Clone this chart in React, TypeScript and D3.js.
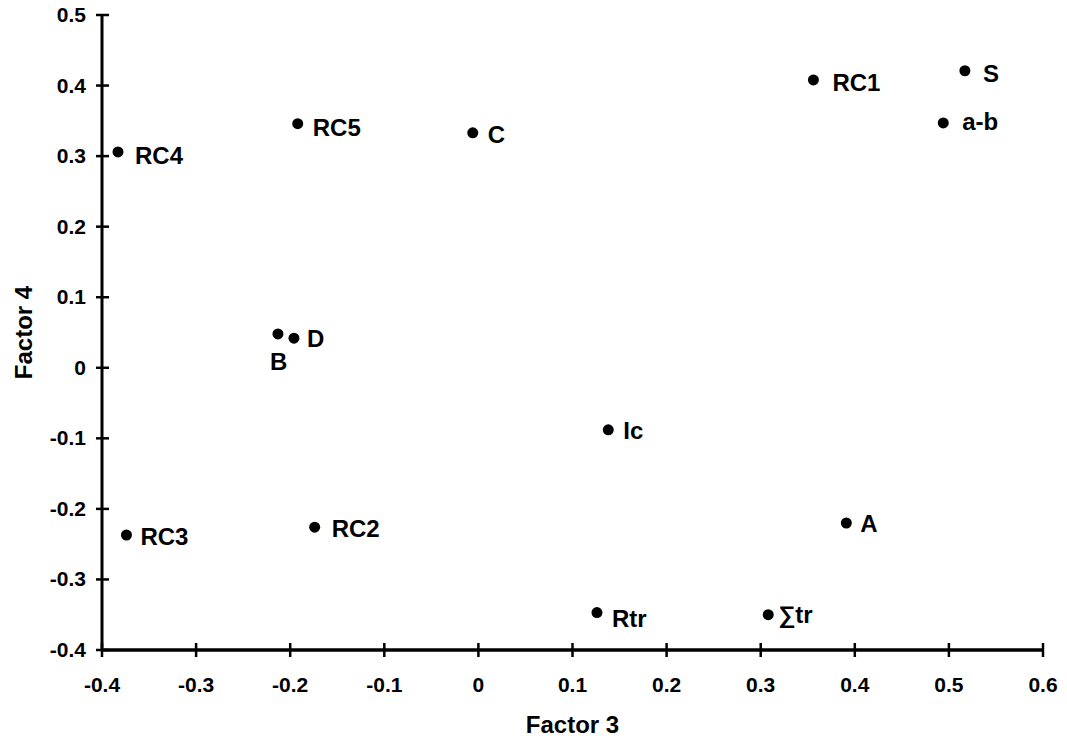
import React from "react";
import * as d3 from "d3";

const labels = ["RC4", "RC5", "C", "RC1", "S", "a-b", "B", "D", "Ic", "RC3", "RC2", "A", "Rtr", "\u2211tr"];
const factor3 = [-0.383, -0.192, -0.006, 0.356, 0.517, 0.494, -0.213, -0.196, 0.138, -0.374, -0.174, 0.391, 0.126, 0.308];
const factor4 = [0.306, 0.346, 0.333, 0.408, 0.421, 0.347, 0.048, 0.042, -0.088, -0.237, -0.226, -0.22, -0.347, -0.35];

const xTicks = [-0.4, -0.3, -0.2, -0.1, 0, 0.1, 0.2, 0.3, 0.4, 0.5, 0.6];
const yTicks = [0.5, 0.4, 0.3, 0.2, 0.1, 0, -0.1, -0.2, -0.3, -0.4];

// label placement offsets (layout only)
const labelOffsets: Record<string, [number, number]> = {
  RC4: [17, 12], RC5: [15, 12], C: [15, 10], RC1: [19, 11], S: [18, 11], "a-b": [19, 7],
  B: [-8, 36], D: [13, 9], Ic: [15, 9], RC3: [14, 10], RC2: [17, 10], A: [14, 9],
  Rtr: [15, 14], "\u2211tr": [10, 8],
};

const W = 1067, H = 741;
const L = 102, R = 1043, T = 15, B = 650;

const fmt = (v: number) => (v === 0 ? "0" : d3.format(".1f")(v).replace("\u2212", "-"));

export default function App() {
  const x = d3.scaleLinear().domain([-0.4, 0.6]).range([L, R]);
  const y = d3.scaleLinear().domain([-0.4, 0.5]).range([B, T]);
  const font = "'Liberation Sans', Arial, sans-serif";
  return (
    <svg width={W} height={H} style={{ position: "absolute", left: 0, top: 0, background: "#fff" }} fontFamily={font}>
      <rect width={W} height={H} fill="#fff" />
      <line x1={L} x2={L} y1={T} y2={B} stroke="#000" strokeWidth={3} />
      <line x1={L} x2={R} y1={B} y2={B} stroke="#000" strokeWidth={3.5} />
      {yTicks.map((t) => (
        <g key={"y" + t}>
          <line x1={L - 6} x2={L + 7} y1={y(t)} y2={y(t)} stroke="#000" strokeWidth={2.5} />
          <text x={86} y={y(t) + 7} textAnchor="end" fontSize={21} fontWeight="bold">{fmt(t)}</text>
        </g>
      ))}
      {xTicks.map((t) => (
        <g key={"x" + t}>
          <line x1={x(t)} x2={x(t)} y1={B - 7} y2={B + 7} stroke="#000" strokeWidth={2.5} />
          <text x={x(t)} y={692} textAnchor="middle" fontSize={21} fontWeight="bold">{fmt(t)}</text>
        </g>
      ))}
      <text x={(L + R) / 2} y={733} textAnchor="middle" fontSize={24} fontWeight="bold">Factor 3</text>
      <text transform={`translate(32,${(T + B) / 2}) rotate(-90)`} textAnchor="middle" fontSize={24} fontWeight="bold">Factor 4</text>
      {labels.map((lab, i) => {
        const cx = x(factor3[i]);
        const cy = y(factor4[i]);
        const [dx, dy] = labelOffsets[lab] || [15, 10];
        return (
          <g key={lab}>
            <circle cx={cx} cy={cy} r={5.5} fill="#000" />
            <text x={cx + dx} y={cy + dy} fontSize={24} fontWeight="bold">{lab}</text>
          </g>
        );
      })}
    </svg>
  );
}
